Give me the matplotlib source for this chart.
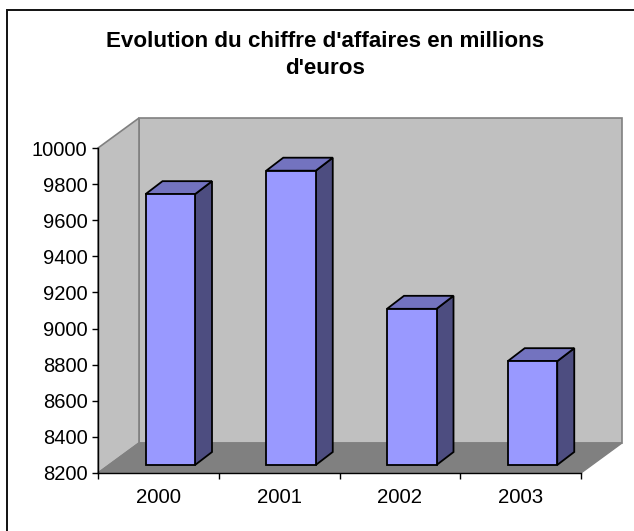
import numpy as np
import matplotlib
matplotlib.use("Agg")
import matplotlib.pyplot as plt
from matplotlib.lines import Line2D
from matplotlib.patches import Polygon

# --- Data ---
years = ["2000", "2001", "2002", "2003"]
sales = [9700, 9830, 9065, 8775]
y_ticks = list(range(8200, 10001, 200))
title = "Evolution du chiffre d'affaires en millions\nd'euros"

W, H = 634, 531
plt.rcParams['font.family'] = ['Liberation Sans', 'DejaVu Sans']

fig = plt.figure(figsize=(W / 100, H / 100), dpi=100)

# chart frame, only the top and left edges fall inside the picture
fig.add_artist(Line2D([7 / W, 7 / W, 1], [0, 1 - 10 / H, 1 - 10 / H], transform=fig.transFigure,
                      color='#111111', linewidth=1.4, solid_joinstyle='miter'))

# front plane of the 3D box
left, right, top, bottom = 98, 581, 148, 473
ax = fig.add_axes([left / W, 1 - bottom / H, (right - left) / W, (bottom - top) / H])
ax.set_xlim(0, 4)
ax.set_ylim(8200, 10000)
ax.patch.set_visible(False)

px_x = 4 / (right - left)
px_y = 1800 / (bottom - top)

# box depth, in data units
dx, dy = 41 * px_x, 30 * px_y
x0, x1, y0, y1 = 0, 4, 8200, 10000

def poly(pts, fc, ec, lw=1.0, z=1):
    ax.add_patch(Polygon(pts, closed=True, facecolor=fc, edgecolor=ec, linewidth=lw,
                         zorder=z, clip_on=False, joinstyle='miter'))

# walls and floor
poly([(x0 + dx, y0 + dy), (x1 + dx, y0 + dy), (x1 + dx, y1 + dy), (x0 + dx, y1 + dy)], '#c0c0c0', '#808080', 1.2)
poly([(x0, y0), (x0 + dx, y0 + dy), (x0 + dx, y1 + dy), (x0, y1)], '#c0c0c0', '#808080', 1.2)
poly([(x0, y0), (x1, y0), (x1 + dx, y0 + dy), (x0 + dx, y0 + dy)], '#808080', '#808080', 1.0)

# bars sit part way into the box, so everything moves up a little
bar_w = 49.5 * px_x
bar_dx, bar_dy = 17 * px_x, 13 * px_y
lift = 8 * px_y
base = y0 + lift
shift = 47.5 * px_x + bar_w / 2 - 0.5
positions = np.arange(len(years)) + 0.5 + shift
tops = np.array(sales) + lift

ax.bar(positions, tops - base, bottom=base, width=bar_w, color='#9999ff',
       edgecolor='black', linewidth=1.3, zorder=4, clip_on=False)
for xc, v in zip(positions, tops):
    a, b = xc - bar_w / 2, xc + bar_w / 2
    poly([(b, base), (b + bar_dx, base + bar_dy), (b + bar_dx, v + bar_dy), (b, v)], '#4d4d80', 'black', 1.3, 3)
    poly([(a, v), (b, v), (b + bar_dx, v + bar_dy), (a + bar_dx, v + bar_dy)], '#7373bf', 'black', 1.3, 3)

# axes
for s in ['top', 'right']:
    ax.spines[s].set_visible(False)
for s in ['left', 'bottom']:
    ax.spines[s].set_linewidth(1.0)
    ax.spines[s].set_zorder(6)
ax.set_yticks(y_ticks)
ax.set_xticks(range(5))
ax.set_xticklabels([])
ax.set_xticks(np.arange(len(years)) + 0.5, labels=years, minor=True)
ax.tick_params(axis='y', labelsize=14.5, length=4.5, width=1.0, pad=3)
ax.tick_params(axis='x', which='major', length=4.5, width=1.0)
ax.tick_params(axis='x', which='minor', length=0, labelsize=14.7, pad=11)

fig.text(325 / W, 1 - 55 / H, title, ha='center', va='center', fontsize=16.1,
         fontweight='bold', linespacing=1.42)

fig.savefig("out.png", dpi=100)
